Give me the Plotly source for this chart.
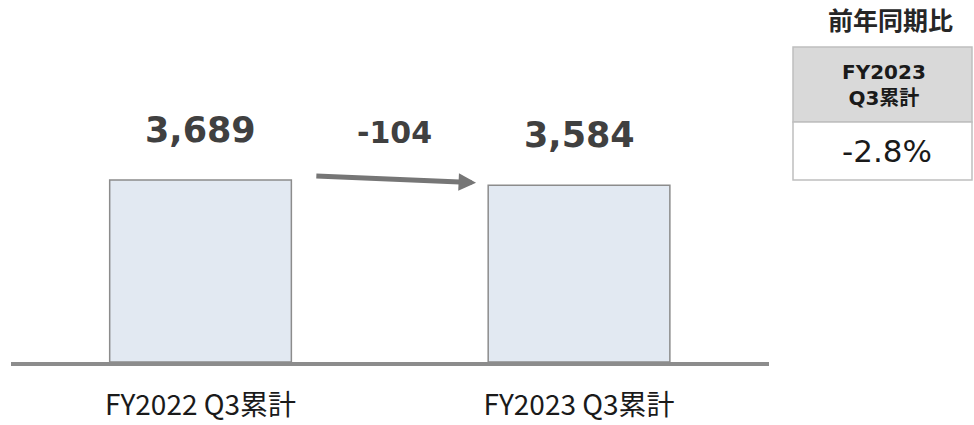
import plotly.graph_objects as go

# ---- data ----
categories = ["FY2022 Q3累計", "FY2023 Q3累計"]
values = [3689, 3584]
value_labels = ["3,689", "3,584"]
diff_label = "-104"
table_title = "前年同期比"
table_header = "FY2023<br>Q3累計"
table_value = "-2.8%"

# ---- layout geometry (pixels) ----
W, H = 974, 425
ML, MR, MT, MB = 11, 205, 0, 63
PW, PH = W - ML - MR, H - MT - MB
YMAX = 7337

def px_x(px):
    return (px - ML) / PW

def px_y(py):
    return (H - MB - py) / PH

BAR_FILL = "#E2E9F2"
BAR_LINE = "#8C8C8C"
TXT_DARK = "#404040"
BOLD_FONT = "DejaVu Sans, Noto Sans CJK JP"

fig = go.Figure()
fig.add_trace(go.Bar(
    x=categories, y=values, width=0.48,
    marker=dict(color=BAR_FILL, line=dict(color=BAR_LINE, width=1.5)),
    hoverinfo="skip", showlegend=False,
))

annotations = []
for c, v, lab in zip(categories, values, value_labels):
    annotations.append(dict(
        x=c, y=v, xref="x", yref="y", text=f"<b>{lab}</b>", showarrow=False,
        yanchor="middle", yshift=50,
        font=dict(family=BOLD_FONT, size=35, color=TXT_DARK),
    ))

# difference label and arrow between bars
annotations.append(dict(
    x=0.5, y=(values[0] + values[1]) / 2, xref="x", yref="y",
    text=f"<b>{diff_label}</b>", showarrow=False, yanchor="middle",
    yshift=50, xshift=5,
    font=dict(family=BOLD_FONT, size=30, color=TXT_DARK),
))
annotations.append(dict(
    x=0.728, y=values[1] * 1.014, xref="x", yref="y",
    ax=0.302, ay=values[0] * 1.022, axref="x", ayref="y",
    text="", showarrow=True, arrowhead=2, arrowsize=0.7, arrowwidth=5,
    arrowcolor="#767676", standoff=0, startstandoff=0,
))

# right-side comparison table
T_L, T_R, T_TOP, T_MID, T_BOT = 793, 972, 47, 122, 180
cx = px_x((T_L + T_R) / 2)
annotations.append(dict(
    x=px_x(890), y=px_y(19), xref="paper", yref="paper", text=f"<b>{table_title}</b>",
    showarrow=False, xanchor="center", yanchor="middle",
    font=dict(family="Noto Sans CJK JP", size=25, color="#262626"),
))
annotations.append(dict(
    x=cx, y=px_y((T_TOP + T_MID) / 2), xref="paper", yref="paper",
    text=f"<b>{table_header}</b>", showarrow=False, xanchor="center", yanchor="middle",
    xshift=2,
    font=dict(family=BOLD_FONT, size=20, color="#1a1a1a"),
))
annotations.append(dict(
    x=cx, y=px_y((T_MID + T_BOT) / 2), xref="paper", yref="paper",
    text=table_value, showarrow=False, xanchor="center", yanchor="middle",
    xshift=5,
    font=dict(family="DejaVu Sans", size=31, color="#1a1a1a"),
))

shapes = [
    dict(type="rect", xref="paper", yref="paper", x0=px_x(T_L), x1=px_x(T_R),
         y0=px_y(T_MID), y1=px_y(T_TOP), fillcolor="#D9D9D9",
         line=dict(color="#BFBFBF", width=1.5), layer="below"),
    dict(type="rect", xref="paper", yref="paper", x0=px_x(T_L), x1=px_x(T_R),
         y0=px_y(T_BOT), y1=px_y(T_MID), fillcolor="white",
         line=dict(color="#BFBFBF", width=1.5), layer="below"),
]

fig.update_layout(
    width=W, height=H,
    margin=dict(l=ML, r=MR, t=MT, b=MB, pad=0, autoexpand=False),
    paper_bgcolor="white", plot_bgcolor="white",
    annotations=annotations, shapes=shapes,
    xaxis=dict(range=[-0.5007, 1.5019], showgrid=False, zeroline=False,
               showline=True, linecolor="#8C8C8C", linewidth=4,
               ticks="", ticklabelstandoff=15, automargin=False,
               tickfont=dict(family="Noto Sans CJK JP", size=28, color="#1a1a1a")),
    yaxis=dict(range=[0, YMAX], visible=False, showgrid=False, zeroline=False,
               automargin=False),
    bargap=0.5,
)

fig.write_html("out.html")
